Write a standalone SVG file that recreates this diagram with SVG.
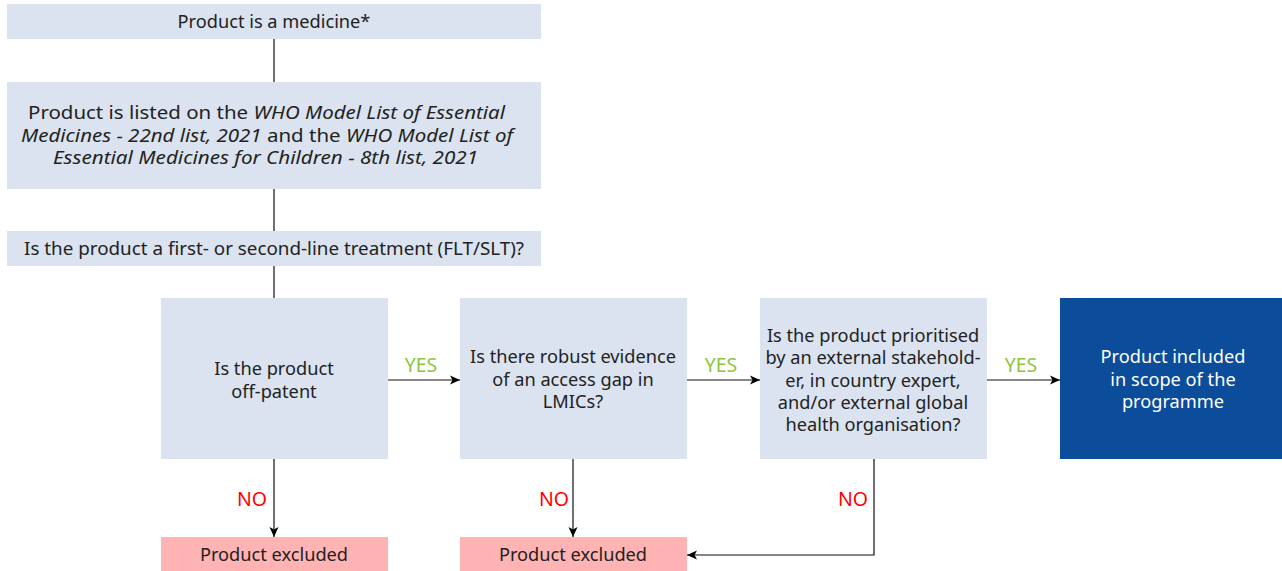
<svg xmlns="http://www.w3.org/2000/svg" width="1282" height="571" viewBox="0 0 1282 571">
<defs>
<marker id="arr" viewBox="0 0 10 10" refX="10" refY="5" markerWidth="10" markerHeight="10" markerUnits="userSpaceOnUse" orient="auto">
<path d="M0,0.5 L10,5 L0,9.5 L2.5,5 Z" fill="#000"/>
</marker>
<style>
.box{fill:#dae3ef}
.exc{fill:#ffb3b3}
.inc{fill:#0b4d9a}
text{font-family:"Noto Sans","Open Sans",sans-serif;font-size:18.2px;fill:#222;text-anchor:middle}
.w{fill:#fff}
.i{font-style:italic}
.yes{fill:#8cc63e;font-size:19.5px}
.no{fill:#ff0000;font-size:19.5px}
.ln{stroke:#111;stroke-width:1.2;fill:none}
</style>
</defs>
<rect width="1282" height="571" fill="#fff"/>
<g id="connectors">
<path class="ln" d="M274,39 V82"/>
<path class="ln" d="M274,189 V231"/>
<path class="ln" d="M274,266 V298"/>
<path class="ln" d="M388,380 H460" marker-end="url(#arr)"/>
<path class="ln" d="M687,380 H760" marker-end="url(#arr)"/>
<path class="ln" d="M987,380 H1060" marker-end="url(#arr)"/>
<path class="ln" d="M274,459 V537" marker-end="url(#arr)"/>
<path class="ln" d="M573,459 V537" marker-end="url(#arr)"/>
<path class="ln" d="M874,459 V555 H687" marker-end="url(#arr)"/>
<text class="yes" x="421" y="372">YES</text>
<text class="yes" x="721" y="372">YES</text>
<text class="yes" x="1021" y="372">YES</text>
<text class="no" x="252" y="506">NO</text>
<text class="no" x="554" y="506">NO</text>
<text class="no" x="853" y="506">NO</text>
</g>
<g id="n1">
<rect class="box" x="7" y="4" width="534" height="35"/>
<text x="274" y="28">Product is a medicine*</text>
</g>
<g id="n2">
<rect class="box" x="7" y="82" width="534" height="107"/>
<text x="266.5" y="119" textLength="477" lengthAdjust="spacingAndGlyphs">Product is listed on the <tspan class="i">WHO Model List of Essential</tspan></text>
<text x="267" y="142" textLength="492" lengthAdjust="spacingAndGlyphs"><tspan class="i">Medicines - 22nd list, 2021</tspan> and the <tspan class="i">WHO Model List of</tspan></text>
<text x="265.5" y="164" class="i" textLength="425" lengthAdjust="spacingAndGlyphs">Essential Medicines for Children - 8th list, 2021</text>
</g>
<g id="n3">
<rect class="box" x="7" y="231" width="534" height="35"/>
<text x="274" y="255" textLength="500" lengthAdjust="spacingAndGlyphs">Is the product a first- or second-line treatment (FLT/SLT)?</text>
</g>
<g id="n4">
<rect class="box" x="161" y="298" width="227" height="161"/>
<text x="274" y="375">Is the product</text>
<text x="274" y="398">off-patent</text>
</g>
<g id="n5">
<rect class="box" x="460" y="298" width="227" height="161"/>
<text x="573" y="363">Is there robust evidence</text>
<text x="573" y="386">of an access gap in</text>
<text x="573" y="408">LMICs?</text>
</g>
<g id="n6">
<rect class="box" x="760" y="298" width="227" height="161"/>
<text x="873" y="342">Is the product prioritised</text>
<text x="873" y="364">by an external stakehold-</text>
<text x="873" y="387">er, in country expert,</text>
<text x="873" y="409">and/or external global</text>
<text x="873" y="431">health organisation?</text>
</g>
<g id="n7">
<rect class="inc" x="1060" y="298" width="222" height="161"/>
<text class="w" x="1173" y="363">Product included</text>
<text class="w" x="1173" y="386">in scope of the</text>
<text class="w" x="1173" y="408">programme</text>
</g>
<g id="n8">
<rect class="exc" x="161" y="537" width="227" height="34"/>
<text x="274" y="561">Product excluded</text>
</g>
<g id="n9">
<rect class="exc" x="460" y="537" width="227" height="34"/>
<text x="573" y="561">Product excluded</text>
</g>
</svg>
